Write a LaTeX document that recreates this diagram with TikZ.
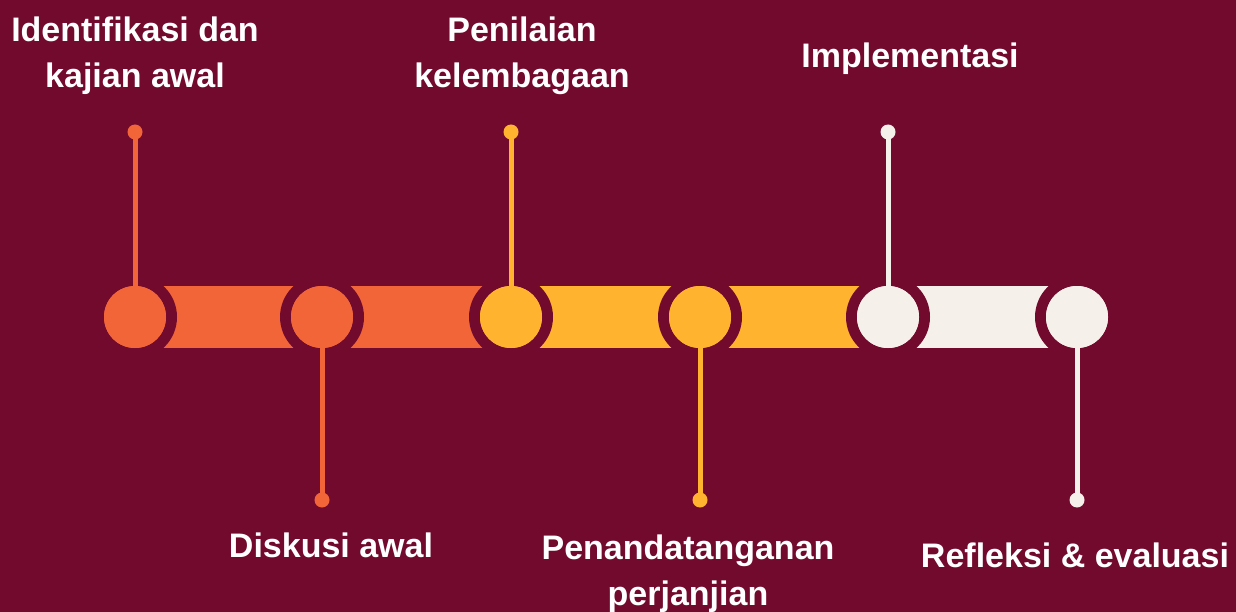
\documentclass[tikz,border=0pt]{standalone}
\usepackage{fontspec}
\setmainfont{Liberation Sans}
\definecolor{bgc}{HTML}{720A2E}
\definecolor{orng}{HTML}{F26538}
\definecolor{yell}{HTML}{FFB32F}
\definecolor{crem}{HTML}{F5F1EA}
\tikzset{
  bigdot/.style={circle, fill=#1, minimum size=62pt, inner sep=0pt, outer sep=0pt},
  smalldot/.style={circle, fill=#1, minimum size=15pt, inner sep=0pt, outer sep=0pt},
  stem/.style={draw=#1, line width=5pt},
  lbl/.style={text=white, font=\fontsize{34}{46}\selectfont\bfseries, align=center, anchor=base, inner sep=0pt},
}
\begin{document}
\begin{tikzpicture}[x=1pt, y=-1pt]
\fill[bgc] (0,0) rectangle (1236,612);
\useasboundingbox (0,0) rectangle (1236,612);
% bars
\fill[orng] (135,286) rectangle (322,348);
\fill[orng] (322,286) rectangle (511,348);
\fill[yell] (511,286) rectangle (700,348);
\fill[yell] (700,286) rectangle (888,348);
\fill[crem] (888,286) rectangle (1077,348);
% gaps around circles
\foreach \cx in {135,322,511,700,888,1077} \fill[bgc] (\cx,317) circle[radius=42];
% circles
\node[bigdot=orng] (c1) at (135,317) {};
\node[bigdot=orng] (c2) at (322,317) {};
\node[bigdot=yell] (c3) at (511,317) {};
\node[bigdot=yell] (c4) at (700,317) {};
\node[bigdot=crem] (c5) at (888,317) {};
\node[bigdot=crem] (c6) at (1077,317) {};
% end dots
\node[smalldot=orng] (d1) at (135,132) {};
\node[smalldot=orng] (d2) at (322,500) {};
\node[smalldot=yell] (d3) at (511,132) {};
\node[smalldot=yell] (d4) at (700,500) {};
\node[smalldot=crem] (d5) at (888,132) {};
\node[smalldot=crem] (d6) at (1077,500) {};
% stems
\draw[stem=orng] (c1.center) -- (d1.center);
\draw[stem=orng] (c2.center) -- (d2.center);
\draw[stem=yell] (c3.center) -- (d3.center);
\draw[stem=yell] (c4.center) -- (d4.center);
\draw[stem=crem] (c5.center) -- (d5.center);
\draw[stem=crem] (c6.center) -- (d6.center);
% redraw circles on top of stems
\foreach \n/\col in {c1/orng,c2/orng,c3/yell,c4/yell,c5/crem,c6/crem} \fill[\col] (\n.center) circle[radius=31];
% labels (base anchor = baseline of last line)
\node[lbl] (t1) at (135,88) {Identifikasi dan\\kajian awal};
\node[lbl] (t2) at (331,557) {Diskusi awal};
\node[lbl] (t3) at (522,88) {Penilaian\\kelembagaan};
\node[lbl] (t4) at (688,605) {Penandatanganan\\perjanjian};
\node[lbl] (t5) at (910,68) {Implementasi};
\node[lbl] (t6) at (1075,567) {Refleksi \& evaluasi};
\end{tikzpicture}
\end{document}
